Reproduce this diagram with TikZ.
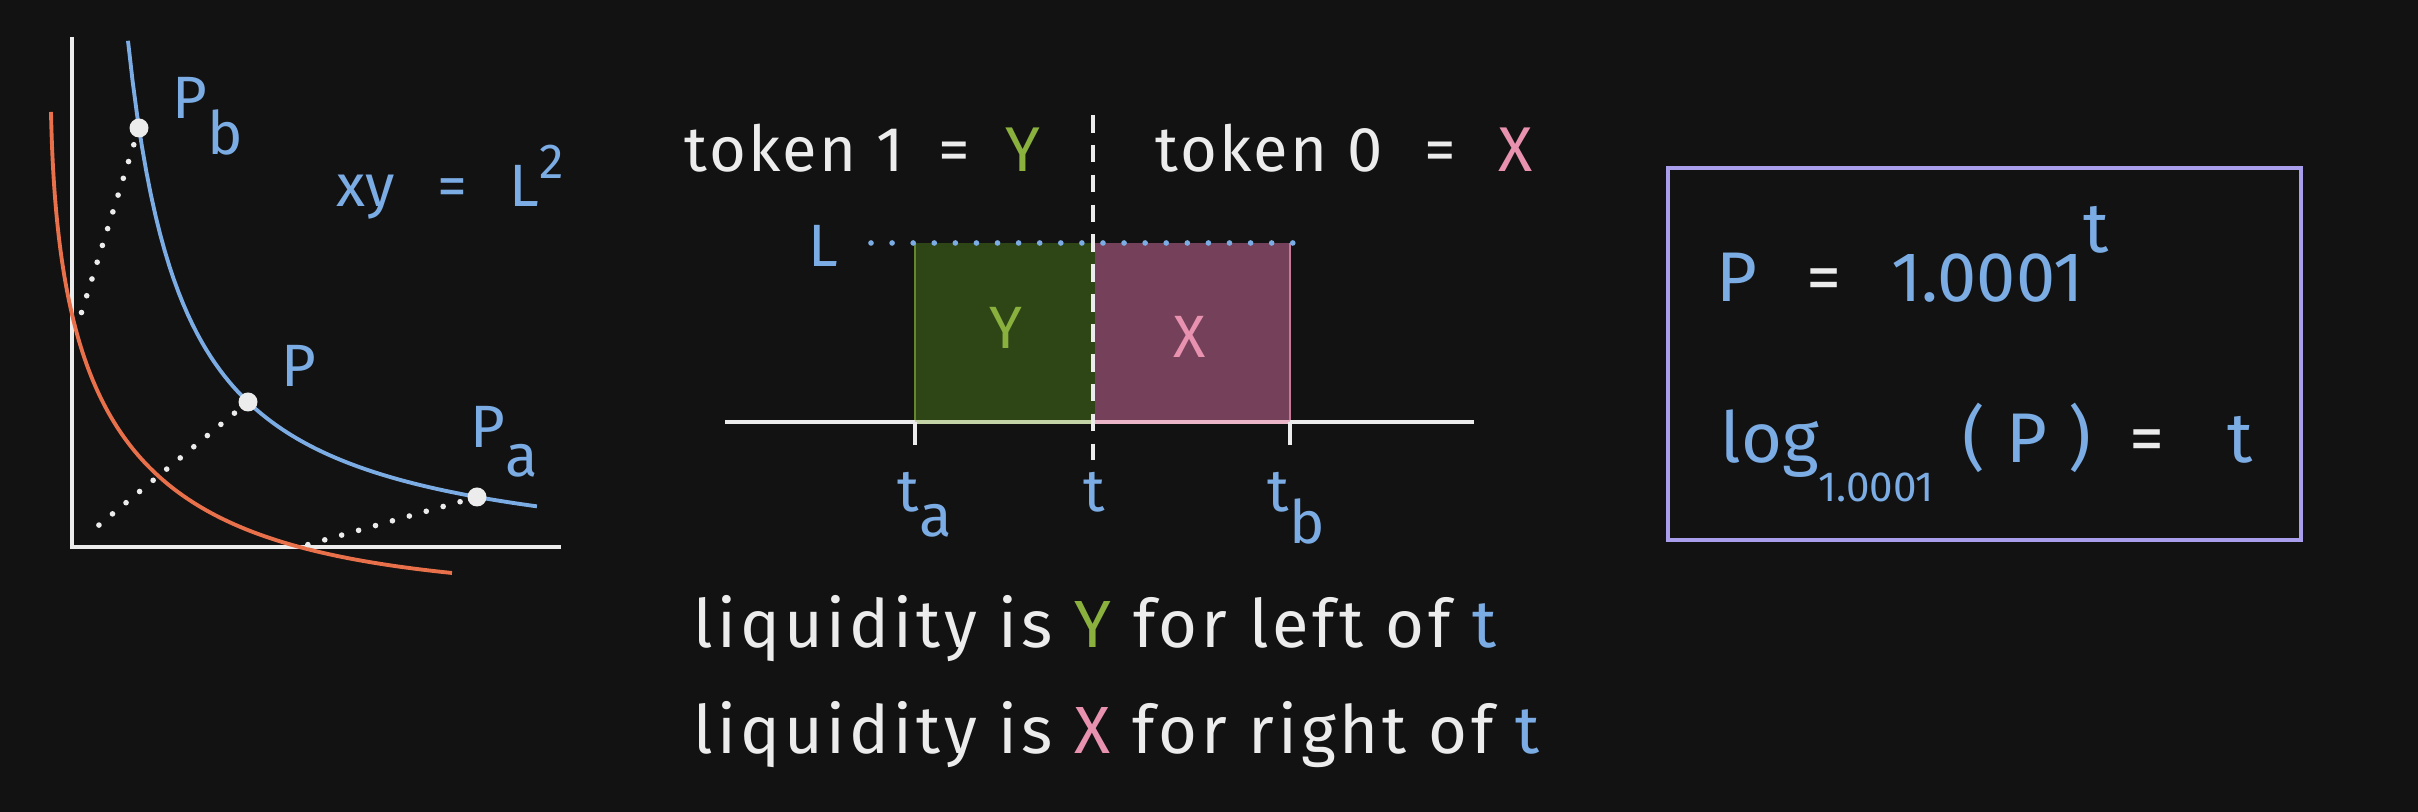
\documentclass[tikz,border=0pt]{standalone}
\usepackage{fontspec}
\setmainfont{Fira Sans}
\usepackage{xcolor}
\usetikzlibrary{positioning, calc}

\definecolor{bgdark}{RGB}{18,18,18}
\definecolor{chalk}{RGB}{236,236,236}
\definecolor{lblue}{RGB}{124,172,228}
\definecolor{ygreen}{RGB}{138,176,62}
\definecolor{ygreenfill}{RGB}{46,70,22}
\definecolor{xpink}{RGB}{232,146,176}
\definecolor{xpinkfill}{RGB}{116,64,90}
\definecolor{curveorange}{RGB}{232,112,74}
\definecolor{boxlilac}{RGB}{168,158,236}

\begin{document}
\begin{tikzpicture}[
    font=\fontsize{17}{20}\selectfont,
    every node/.style={inner sep=0pt},
    axisline/.style={chalk, line width=1.1pt},
    pricecurve/.style={lblue, line width=1.1pt},
    oldcurve/.style={curveorange, line width=1.1pt},
    dotline/.style={chalk, line width=1.6pt, line cap=round, dash pattern=on 0pt off 5pt},
    levelline/.style={lblue, line width=1.6pt, line cap=round, dash pattern=on 0pt off 6pt},
    tickline/.style={chalk, line width=1.3pt, dash pattern=on 5pt off 3.5pt},
    pricedot/.style={circle, fill=chalk, minimum size=0.19cm},
    bluetxt/.style={text=lblue},
    chalktxt/.style={text=chalk},
    tokentxt/.style={text=chalk, font=\fontsize{18}{21}\selectfont\addfontfeatures{LetterSpace=4}},
    ruletxt/.style={text=chalk, font=\fontsize{19}{22}\selectfont\addfontfeatures{LetterSpace=6}},
    bigtxt/.style={font=\fontsize{20}{24}\selectfont}
]
    \useasboundingbox (0,0) rectangle (24.18,8.12);
    \fill[bgdark] (0,0) rectangle (24.18,8.12);

    % left: reserve curve
    \coordinate (O) at (0.72,2.65);
    \coordinate (ytop) at (0.72,7.75);
    \coordinate (xend) at (5.61,2.65);
    \draw[axisline] (ytop) -- (O) -- (xend);

    \coordinate (ostart) at (0.51,7.00);
    \coordinate (oend) at (4.52,2.39);
    \draw[oldcurve] (ostart) .. controls (0.58,3.6) and (1.5,2.7) .. (oend);
    \draw[pricecurve] plot[domain=1.28:5.37, samples=90] ({\x},{2.421+2.952/(\x-0.722)});

    \coordinate (yhit) at (0.77,4.85);
    \coordinate (ohit) at (0.93,2.82);
    \coordinate (xhit) at (3.03,2.66);
    \coordinate (pbpt) at (1.39,6.84);
    \coordinate (ppt) at (2.48,4.10);
    \coordinate (papt) at (4.77,3.15);
    \draw[dotline] (pbpt) -- (yhit);
    \draw[dotline] (ppt) -- (ohit);
    \draw[dotline] (papt) -- (xhit);
    \node[pricedot] (pb) at (pbpt) {};
    \node[pricedot] (p) at (ppt) {};
    \node[pricedot] (pa) at (papt) {};

    \node[bluetxt, anchor=base west] (pblabel) at (1.72,6.93) {P\raisebox{-10pt}{b}};
    \node[bluetxt, anchor=base west] (plabel) at (2.81,4.25) {P};
    \node[bluetxt, anchor=base west] (palabel) at (4.70,3.64) {P\raisebox{-8pt}{a}};
    \node[bluetxt, anchor=base west] (curvelabel) at (3.36,6.05) {xy\hspace{12pt}=\hspace{12pt}L\raisebox{8pt}{\fontsize{14}{16}\selectfont 2}};

    % middle: liquidity on the tick line
    \fill[ygreenfill] (9.15,3.90) rectangle (10.95,5.69);
    \fill[xpinkfill] (10.95,3.90) rectangle (12.90,5.69);
    \draw[ygreen!60!ygreenfill, line width=0.8pt] (9.15,3.90) -- (9.15,5.69);
    \draw[xpink!70!xpinkfill, line width=0.8pt] (12.90,5.69) -- (12.90,3.90);

    \coordinate (axl) at (7.25,3.90);
    \coordinate (axr) at (14.74,3.90);
    \draw[axisline] (axl) -- (axr);
    \draw[ygreen!40!chalk, line width=1.1pt] (9.15,3.90) -- (10.95,3.90);
    \draw[xpink!60!chalk, line width=1.1pt] (10.95,3.90) -- (12.90,3.90);
    \foreach \x in {9.15,12.90}
        \draw[axisline] (\x,3.90) -- (\x,3.67);

    \coordinate (lstart) at (8.71,5.69);
    \coordinate (lend) at (13.04,5.69);
    \draw[levelline] (lstart) -- (lend);

    \coordinate (ttop) at (10.93,6.97);
    \coordinate (tbot) at (10.93,3.52);
    \draw[tickline] (ttop) -- (tbot);

    \node[tokentxt, anchor=base west] (tok1) at (6.84,6.40) {token 1\hspace{10pt}=\hspace{10pt}{\color{ygreen}Y}};
    \node[tokentxt, anchor=base west] (tok0) at (11.55,6.40) {token 0\hspace{12pt}=\hspace{12pt}{\color{xpink}X}};
    \node[bluetxt, anchor=base west] (llabel) at (8.08,5.45) {L};
    \node[text=ygreen] (ylabel) at (10.06,4.84) {Y};
    \node[text=xpink] (xlabel) at (11.90,4.75) {X};

    \node[bluetxt, anchor=base west] (talabel) at (8.97,3.00) {t\raisebox{-7pt}{a}};
    \node[bluetxt, anchor=base west] (tlabel) at (10.83,3.00) {t};
    \node[bluetxt, anchor=base west] (tblabel) at (12.67,3.00) {t\raisebox{-9pt}{b}};

    \node[ruletxt, anchor=base west] (rule1) at (6.93,1.64) {liquidity is {\color{ygreen}Y} for left of {\color{lblue}t}};
    \node[ruletxt, anchor=base west] (rule2) at (6.93,0.58) {liquidity is {\color{xpink}X} for right of {\color{lblue}t}};

    % right: tick formula
    \draw[boxlilac, line width=1.2pt] (16.68,2.72) rectangle (23.01,6.44);
    \node[bluetxt, bigtxt, anchor=base west] (eq1) at (17.16,5.10)
        {P\hspace{14pt}{\color{chalk}=}\hspace{14pt}1.0001\raisebox{14pt}{t}};
    \node[bluetxt, bigtxt, anchor=base west] (eq2) at (17.20,3.49)
        {log\raisebox{-11pt}{\fontsize{12}{14}\selectfont 1.0001}\hspace{8pt}(\hspace{6pt}P\hspace{6pt})\hspace{11pt}{\color{chalk}=}\hspace{18pt}t};
\end{tikzpicture}
\end{document}
